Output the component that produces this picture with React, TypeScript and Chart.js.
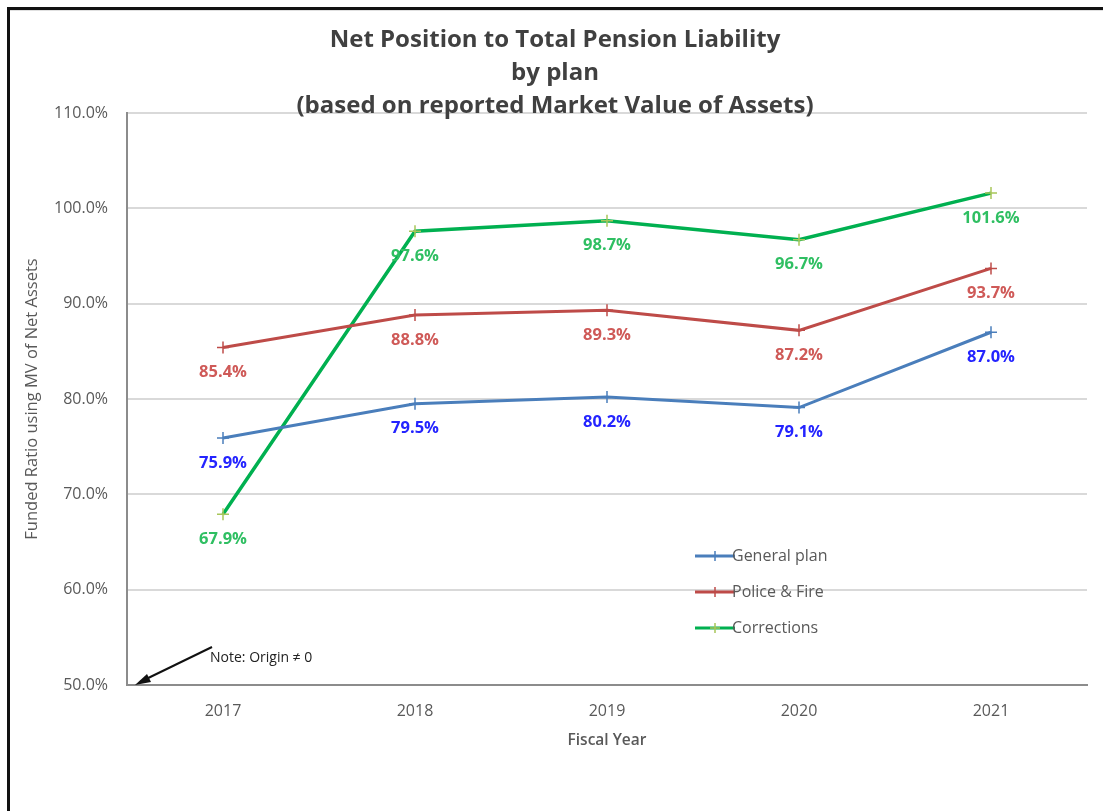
import React, { useEffect, useRef } from "react";
import { Chart, registerables } from "chart.js";

Chart.register(...registerables);

const years = ["2017", "2018", "2019", "2020", "2021"];
const generalPlan = [75.9, 79.5, 80.2, 79.1, 87.0];
const policeFire = [85.4, 88.8, 89.3, 87.2, 93.7];
const corrections = [67.9, 97.6, 98.7, 96.7, 101.6];
const seriesNames = ["General plan", "Police & Fire", "Corrections"];
const titleLines = [
  "Net Position to Total Pension Liability",
  "by plan",
  "(based on reported Market Value of Assets)",
];
const yTitle = "Funded Ratio using MV of Net Assets";
const xTitle = "Fiscal Year";
const noteText = "Note: Origin \u2260 0";

const lineColors = ["#4a7ebb", "#be4b48", "#00b050"];
const pointColors = ["#4a7ebb", "#be4b48", "#a8c65a"];
const labelColors = ["#2424ff", "#cf5a58", "#2fbf62"];
const FONT = "'Open Sans', Lato, sans-serif";

const decorPlugin = {
  id: "decor",
  afterDraw(chart: any) {
    const ctx = chart.ctx;
    ctx.save();
    // frame
    ctx.fillStyle = "#111";
    ctx.fillRect(7, 7, 1096, 3);
    ctx.fillRect(7, 7, 3, 804);
    ctx.fillStyle = "#e0e0e0";
    ctx.fillRect(10, 10, 1093, 1);
    // title
    ctx.fillStyle = "#404040";
    ctx.font = `bold 24px ${FONT}`;
    ctx.textAlign = "center";
    ctx.textBaseline = "middle";
    const ty = [40, 73, 106];
    titleLines.forEach((t, i) => ctx.fillText(t, 555, ty[i]));

    // data labels
    ctx.font = `bold 16.5px ${FONT}`;
    chart.data.datasets.forEach((ds: any, di: number) => {
      const meta = chart.getDatasetMeta(di);
      ctx.fillStyle = labelColors[di];
      meta.data.forEach((pt: any, i: number) => {
        ctx.fillText(ds.data[i].toFixed(1) + "%", pt.x, pt.y + 25);
      });
    });

    // legend
    const lx = 695;
    const ly = [556, 592, 628];
    ctx.font = `16px ${FONT}`;
    ctx.textAlign = "left";
    seriesNames.forEach((n, i) => {
      ctx.strokeStyle = lineColors[i];
      ctx.lineWidth = 3;
      ctx.beginPath();
      ctx.moveTo(lx, ly[i]);
      ctx.lineTo(lx + 40, ly[i]);
      ctx.stroke();
      ctx.strokeStyle = pointColors[i];
      ctx.lineWidth = 1.5;
      ctx.beginPath();
      ctx.moveTo(lx + 20, ly[i] - 5);
      ctx.lineTo(lx + 20, ly[i] + 5);
      ctx.moveTo(lx + 15, ly[i]);
      ctx.lineTo(lx + 25, ly[i]);
      ctx.stroke();
      ctx.fillStyle = "#595959";
      ctx.fillText(n, lx + 37, ly[i]);
    });

    // note + arrow
    ctx.strokeStyle = "#111";
    ctx.lineWidth = 2;
    ctx.beginPath();
    ctx.moveTo(212, 647);
    ctx.lineTo(140, 682);
    ctx.stroke();
    ctx.fillStyle = "#111";
    ctx.beginPath();
    ctx.moveTo(135, 685);
    ctx.lineTo(147, 674);
    ctx.lineTo(151, 682);
    ctx.closePath();
    ctx.fill();
    ctx.font = `14px ${FONT}`;
    ctx.fillStyle = "#222";
    ctx.textBaseline = "middle";
    ctx.fillText(noteText, 210, 658);
    ctx.restore();
  },
};

export default function App() {
  const ref = useRef<HTMLCanvasElement | null>(null);
  useEffect(() => {
    if (!ref.current) return;
    const mk = (label: string, data: number[], i: number) => ({
      label,
      data,
      borderColor: lineColors[i],
      backgroundColor: lineColors[i],
      pointBorderColor: pointColors[i],
      pointBackgroundColor: pointColors[i],
      borderWidth: i === 2 ? 3.5 : 3,
      pointStyle: "cross",
      pointRadius: 6,
      pointBorderWidth: 1.5,
      tension: 0,
      fill: false,
    });
    const chart = new Chart(ref.current, {
      type: "line",
      data: {
        labels: years,
        datasets: [
          mk(seriesNames[0], generalPlan, 0),
          mk(seriesNames[1], policeFire, 1),
          mk(seriesNames[2], corrections, 2),
        ],
      },
      options: {
        responsive: false,
        animation: false,
        layout: { padding: { top: 113, right: 16, left: 0, bottom: 0 } },
        plugins: {
          legend: { display: false },
          title: { display: false },
          tooltip: { enabled: false },
        },
        scales: {
          x: {
            offset: true,
            afterFit: (s: any) => {
              s.height = 126;
            },
            grid: { display: false, drawTicks: false },
            border: { color: "#8c8c8c", width: 2 },
            ticks: {
              padding: 17,
              color: "#595959",
              font: { family: FONT, size: 16 },
            },
            title: {
              display: true,
              text: xTitle,
              color: "#595959",
              font: { family: FONT, size: 15.5, weight: "600" },
              padding: { bottom: 61, top: 0 },
            },
          },
          y: {
            min: 50,
            max: 110,
            afterFit: (s: any) => {
              s.width = 127;
            },
            grid: { color: "#d9d9d9", lineWidth: 2, drawTicks: false },
            border: { color: "#8c8c8c", width: 2 },
            ticks: {
              stepSize: 10,
              padding: 19,
              color: "#595959",
              font: { family: FONT, size: 16 },
              callback: (v: any) => Number(v).toFixed(1) + "%",
            },
            title: {
              display: true,
              text: yTitle,
              color: "#595959",
              font: { family: FONT, size: 16.5 },
              padding: { top: 22, bottom: 0 },
            },
          },
        },
      },
      plugins: [decorPlugin],
    } as any);
    return () => chart.destroy();
  }, []);
  return (
    <div style={{ position: "absolute", left: 0, top: 0, width: 1103, height: 811, background: "#fff" }}>
      <canvas ref={ref} width={1103} height={811} style={{ display: "block" }} />
    </div>
  );
}
